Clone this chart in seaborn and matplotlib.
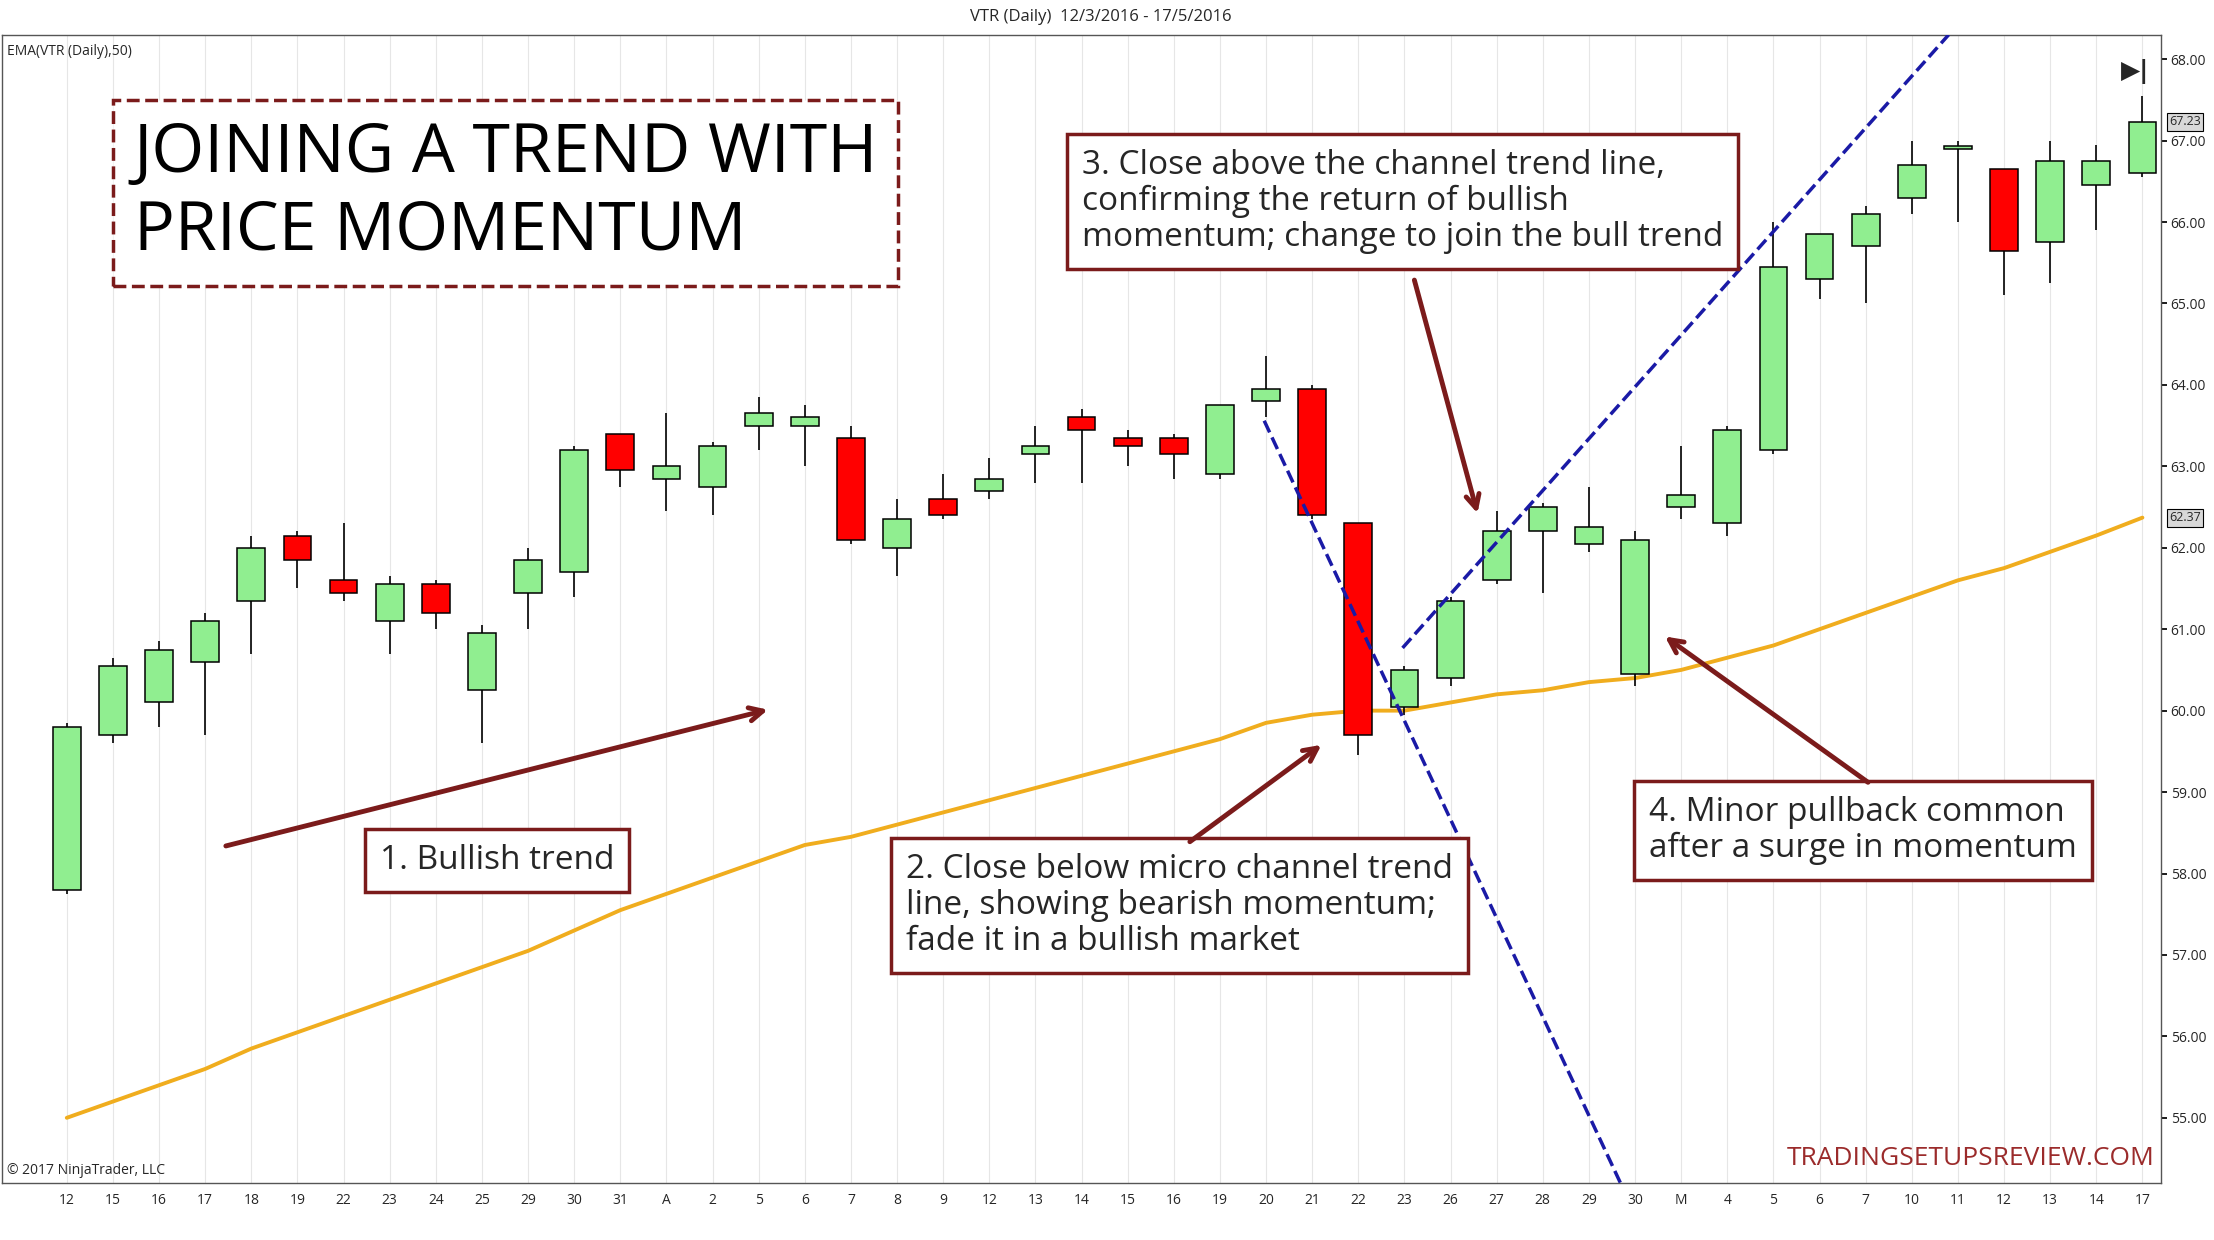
import numpy as np
import pandas as pd
import matplotlib.pyplot as plt
import seaborn as sns

# daily candles VTR 12/3/2016 - 17/5/2016
days = ['12', '15', '16', '17', '18', '19', '22', '23', '24', '25', '29', '30', '31', 'A', '2', '5',
        '6', '7', '8', '9', '12', '13', '14', '15', '16', '19', '20', '21', '22', '23', '26', '27',
        '28', '29', '30', 'M', '4', '5', '6', '7', '10', '11', '12', '13', '14', '17']
opens = [57.8, 59.7, 60.1, 60.6, 61.35, 62.15, 61.6, 61.1, 61.55, 60.25, 61.45, 61.7, 63.4, 62.85, 62.75, 63.5,
         63.5, 63.35, 62.0, 62.6, 62.7, 63.15, 63.6, 63.35, 63.35, 62.9, 63.8, 63.95, 62.3, 60.05, 60.4, 61.6,
         62.2, 62.05, 60.45, 62.5, 62.3, 63.2, 65.3, 65.7, 66.3, 66.9, 66.65, 65.75, 66.45, 66.6]
highs = [59.85, 60.65, 60.85, 61.2, 62.15, 62.2, 62.3, 61.65, 61.6, 61.05, 62.0, 63.25, 63.4, 63.65, 63.3, 63.85,
         63.75, 63.5, 62.6, 62.9, 63.1, 63.5, 63.7, 63.45, 63.4, 63.75, 64.35, 64.0, 62.3, 60.55, 61.4, 62.45,
         62.55, 62.75, 62.2, 63.25, 63.5, 66.0, 65.85, 66.2, 67.0, 67.0, 66.65, 67.0, 66.95, 67.55]
lows = [57.75, 59.6, 59.8, 59.7, 60.7, 61.5, 61.35, 60.7, 61.0, 59.6, 61.0, 61.4, 62.75, 62.45, 62.4, 63.2,
        63.0, 62.05, 61.65, 62.35, 62.6, 62.8, 62.8, 63.0, 62.85, 62.85, 63.6, 62.35, 59.45, 59.95, 60.3, 61.55,
        61.45, 61.95, 60.3, 62.35, 62.15, 63.15, 65.05, 65.0, 66.1, 66.0, 65.1, 65.25, 65.9, 66.55]
closes = [59.8, 60.55, 60.75, 61.1, 62.0, 61.85, 61.45, 61.55, 61.2, 60.95, 61.85, 63.2, 62.95, 63.0, 63.25, 63.65,
          63.6, 62.1, 62.35, 62.4, 62.85, 63.25, 63.45, 63.25, 63.15, 63.75, 63.95, 62.4, 59.7, 60.5, 61.35, 62.2,
          62.5, 62.25, 62.1, 62.65, 63.45, 65.45, 65.85, 66.1, 66.7, 66.9, 65.65, 66.75, 66.75, 67.23]
ema50 = [55.0, 55.2, 55.4, 55.6, 55.85, 56.05, 56.25, 56.45, 56.65, 56.85, 57.05, 57.3, 57.55, 57.75, 57.95, 58.15,
         58.35, 58.45, 58.6, 58.75, 58.9, 59.05, 59.2, 59.35, 59.5, 59.65, 59.85, 59.95, 60.0, 60.0, 60.1, 60.2,
         60.25, 60.35, 60.4, 60.5, 60.65, 60.8, 61.0, 61.2, 61.4, 61.6, 61.75, 61.95, 62.15, 62.37]

df = pd.DataFrame({'o': opens, 'h': highs, 'l': lows, 'c': closes, 'ema': ema50})
df['i'] = np.arange(len(df))

sns.set_theme(style='white')
plt.rcParams['font.family'] = ['Open Sans', 'DejaVu Sans']

fig = plt.figure(figsize=(22.14, 12.4), dpi=100)
ax = fig.add_axes([0.001, 0.046, 0.975, 0.926])

ax.set_xlim(-1.4, 45.4)
ax.set_ylim(54.2, 68.3)
for x in df['i']:
    ax.axvline(x, color='#e6e6e6', lw=0.8, zorder=0)

sns.lineplot(data=df, x='i', y='ema', color='#f0ad1e', lw=2.8, ax=ax, zorder=2)

up = df['c'] >= df['o']
colors = np.where(up, '#90ee90', '#ff0000')
ax.vlines(df['i'], df['l'], df['h'], color='black', lw=1.2, zorder=3)
body = (df['c'] - df['o']).abs().clip(lower=0.03)
ax.bar(df['i'], body, bottom=df[['o', 'c']].min(axis=1), width=0.6,
       color=colors, edgecolor='black', lw=1.1, zorder=4)

# channel trend lines
ax.plot([25.96, 33.7], [63.56, 54.18], color='#1a1aa6', ls='--', lw=2.5, zorder=5)
ax.plot([28.96, 40.8], [60.77, 68.3], color='#1a1aa6', ls='--', lw=2.5, zorder=5)

ax.set_xticks(df['i'])
ax.set_xticklabels(days, fontsize=10)
ax.yaxis.tick_right()
ax.set_yticks(np.arange(55, 68.5, 1))
ax.set_yticklabels([f'{v:.2f}' for v in np.arange(55, 68.5, 1)], fontsize=10)
ax.tick_params(length=4, color='black', direction='out', pad=3)
for s in ax.spines.values():
    s.set_color('#555555')
    s.set_linewidth(1)

for val in [67.23, 62.37]:
    ax.annotate(f'{val:.2f}', xy=(1.0, val), xycoords=('axes fraction', 'data'),
                xytext=(6, 0), textcoords='offset points', va='center', fontsize=9,
                bbox=dict(boxstyle='square,pad=0.2', fc='#d8d8d8', ec='black', lw=0.8))

red = '#7b1b1b'
box = dict(boxstyle='square,pad=0.45', fc='white', ec=red, lw=2.5)
ax.text(1.45, 67.25, 'JOINING A TREND WITH\nPRICE MOMENTUM', fontsize=49, va='top', ha='left',
        linespacing=1.2, color='black',
        bbox=dict(boxstyle='square,pad=0.3', fc='white', ec=red, lw=2.5, ls='--'), zorder=6)
ax.text(9.33, 58.16, '1. Bullish trend', fontsize=24, ha='center', va='center', bbox=box, zorder=6)
ax.text(18.2, 58.25, '2. Close below micro channel trend\nline, showing bearish momentum;\nfade it in a bullish market',
        fontsize=24, ha='left', va='top', bbox=box, linespacing=1.12, zorder=6)
ax.text(22.0, 66.9, '3. Close above the channel trend line,\nconfirming the return of bullish\nmomentum; change to join the bull trend',
        fontsize=24, ha='left', va='top', bbox=box, linespacing=1.12, zorder=6)
ax.text(34.3, 58.95, '4. Minor pullback common\nafter a surge in momentum',
        fontsize=24, ha='left', va='top', bbox=box, linespacing=1.12, zorder=6)

arrow = dict(arrowstyle='->,head_length=0.8,head_width=0.4', color=red, lw=3.5)
for (x0, y0, x1, y1) in [(3.39, 58.33, 15.26, 60.02), (24.3, 58.37, 27.25, 59.6),
                         (29.2, 65.32, 30.6, 62.39), (39.1, 59.1, 34.6, 60.93)]:
    ax.annotate('', xy=(x1, y1), xytext=(x0, y0), arrowprops=arrow, zorder=7)

fig.text(0.497, 0.986, 'VTR (Daily)  12/3/2016 - 17/5/2016', fontsize=12, ha='center', va='center')
ax.text(0.002, 0.992, 'EMA(VTR (Daily),50)', transform=ax.transAxes, fontsize=10, va='top')
ax.text(0.002, 0.004, '\u00a9 2017 NinjaTrader, LLC', transform=ax.transAxes, fontsize=10, va='bottom')
ax.text(0.997, 0.01, 'TRADINGSETUPSREVIEW.COM', transform=ax.transAxes, fontsize=19, color='#9b2b2b',
        ha='right', va='bottom')
ax.text(44.85, 67.85, '\u25b6|', fontsize=18, fontweight='bold', ha='center', va='center',
        family='DejaVu Sans', zorder=8)

ax.set_xlabel('')
ax.set_ylabel('')
fig.savefig('out.png', dpi=100)
